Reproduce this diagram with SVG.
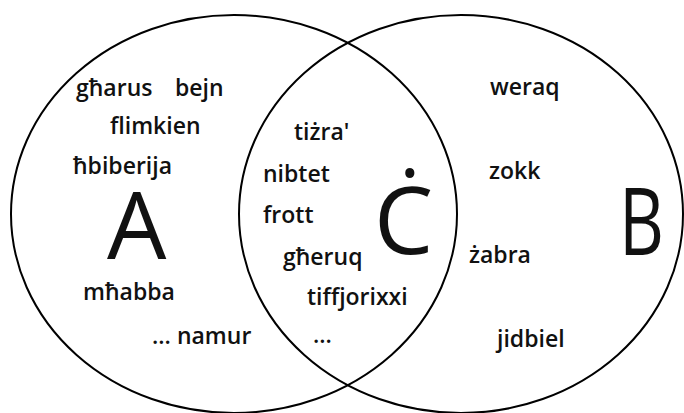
<svg xmlns="http://www.w3.org/2000/svg" width="684" height="413" viewBox="0 0 684 413">
<style>
.set{fill:none;stroke:#000;stroke-width:2}
.w{font-family:"Open Sans","Liberation Sans",sans-serif;font-weight:600;font-size:23px;fill:#111}
.big{font-family:"Open Sans","Liberation Sans",sans-serif;font-weight:400;font-size:94px;fill:#111}
</style>
<rect width="684" height="413" fill="#fff"/>
<g id="setA">
<ellipse class="set" cx="234" cy="214" rx="223" ry="199"/>
<text class="big" x="107" y="259">A</text>
<text class="w" x="76" y="96">għarus</text>
<text class="w" x="175" y="96">bejn</text>
<text class="w" x="110" y="134">flimkien</text>
<text class="w" x="73" y="174">ħbiberija</text>
<text class="w" x="83" y="300">mħabba</text>
<text class="w" x="152" y="344">... namur</text>
</g>
<g id="setB">
<ellipse class="set" cx="461" cy="214" rx="222" ry="199"/>
<text class="big" x="619" y="255" textLength="45" lengthAdjust="spacingAndGlyphs">B</text>
<text class="w" x="490" y="95">weraq</text>
<text class="w" x="489" y="179">zokk</text>
<text class="w" x="469" y="263">żabra</text>
<text class="w" x="497" y="347">jidbiel</text>
</g>
<g id="setC">
<text class="big" x="374" y="254">Ċ</text>
<text class="w" x="294" y="140">tiżra'</text>
<text class="w" x="263" y="182">nibtet</text>
<text class="w" x="263" y="223">frott</text>
<text class="w" x="283" y="265">għeruq</text>
<text class="w" x="307" y="305">tiffjorixxi</text>
<text class="w" x="313" y="343">...</text>
</g>
</svg>
